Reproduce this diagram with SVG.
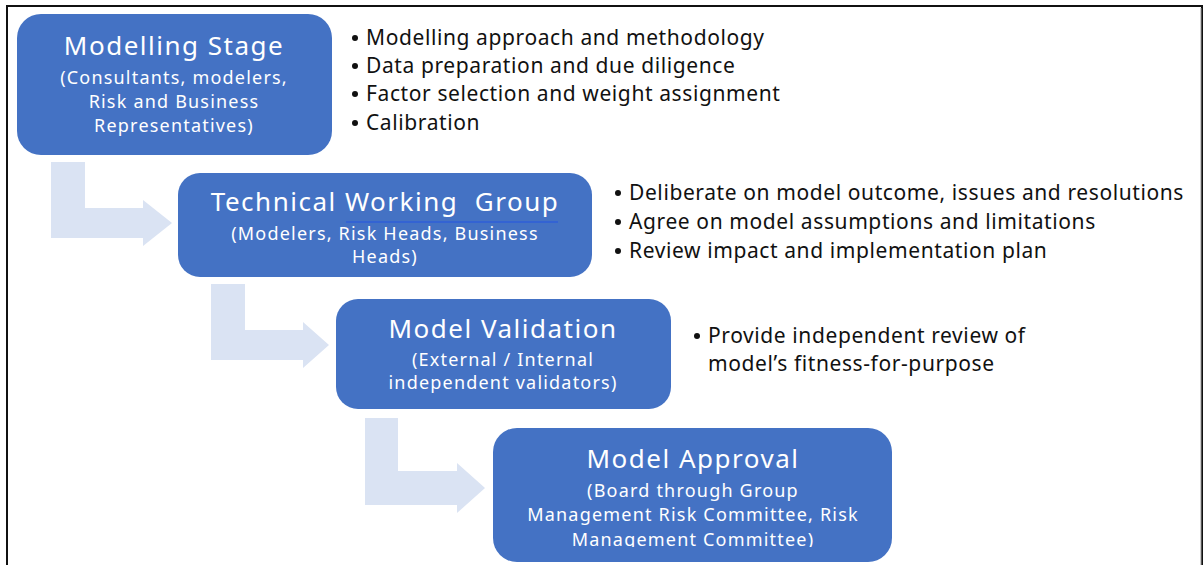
<svg xmlns="http://www.w3.org/2000/svg" width="1204" height="565" viewBox="0 0 1204 565">
<defs>
<style>
.box{fill:#4472C4;}
.arrow{fill:#DAE3F3;}
.t{font-family:"Noto Sans","Open Sans",sans-serif;fill:#FFFFFF;text-anchor:middle;}
.title{font-size:26px;letter-spacing:1.5px;}
.sub{font-size:18px;letter-spacing:1.2px;}
.b{font-family:"Noto Sans","Open Sans",sans-serif;fill:#111111;font-size:21px;letter-spacing:0.6px;}
.dot{fill:#111111;}
</style>
<clipPath id="clip4"><rect x="493" y="428" width="400" height="119"/></clipPath>
</defs>
<rect x="0" y="0" width="1204" height="565" fill="#FFFFFF"/>
<rect x="7" y="6" width="1195" height="620" fill="none" stroke="#111111" stroke-width="2"/>
<line x1="1201" y1="8" x2="1201" y2="565" stroke="#999999" stroke-width="1"/>

<g id="connectors">
<path class="arrow" d="M51,162 H85 V208 H143 V200 L172,223 L143,246 V238 H51 Z"/>
<path class="arrow" d="M211,284 H245 V330 H303 V322 L329,345 L303,368 V360 H211 Z"/>
<path class="arrow" d="M365,418 H398 V471 H457 V463 L485,488 L457,513 V505 H365 Z"/>
</g>

<g id="node-modelling">
<rect class="box" x="17" y="14" width="315" height="141" rx="24"/>
<text class="t title" x="174" y="55">Modelling Stage</text>
<text class="t sub" x="174" y="84">(Consultants, modelers,</text>
<text class="t sub" x="174" y="108">Risk and Business</text>
<text class="t sub" x="174" y="132">Representatives)</text>
</g>

<g id="node-twg">
<rect class="box" x="178" y="173" width="414" height="104" rx="22"/>
<text class="t title" x="385" y="211" xml:space="preserve">Technical Working  Group</text>
<line x1="346" y1="222" x2="558" y2="222" stroke="#2E5FD8" stroke-width="1.5"/>
<text class="t sub" x="385" y="240">(Modelers, Risk Heads, Business</text>
<text class="t sub" x="385" y="263">Heads)</text>
</g>

<g id="node-validation">
<rect class="box" x="336" y="299" width="335" height="110" rx="22"/>
<text class="t title" x="503" y="338">Model Validation</text>
<text class="t sub" x="503" y="366">(External / Internal</text>
<text class="t sub" x="503" y="389">independent validators)</text>
</g>

<g id="node-approval">
<rect class="box" x="493" y="428" width="399" height="134" rx="24"/>
<text class="t title" x="693" y="468">Model Approval</text>
<text class="t sub" x="693" y="497">(Board through Group</text>
<text class="t sub" x="693" y="521">Management Risk Committee, Risk</text>
<g clip-path="url(#clip4)">
<text class="t sub" x="693" y="546">Management Committee)</text>
</g>
</g>

<g id="list-modelling">
<circle class="dot" cx="355" cy="38" r="3"/>
<text class="b" x="366" y="45">Modelling approach and methodology</text>
<circle class="dot" cx="355" cy="66" r="3"/>
<text class="b" x="366" y="73">Data preparation and due diligence</text>
<circle class="dot" cx="355" cy="94" r="3"/>
<text class="b" x="366" y="101">Factor selection and weight assignment</text>
<circle class="dot" cx="355" cy="123" r="3"/>
<text class="b" x="366" y="130">Calibration</text>
</g>

<g id="list-twg">
<circle class="dot" cx="618" cy="193" r="3"/>
<text class="b" x="629" y="200">Deliberate on model outcome, issues and resolutions</text>
<circle class="dot" cx="618" cy="222" r="3"/>
<text class="b" x="629" y="229">Agree on model assumptions and limitations</text>
<circle class="dot" cx="618" cy="251" r="3"/>
<text class="b" x="629" y="258">Review impact and implementation plan</text>
</g>

<g id="list-validation">
<circle class="dot" cx="697" cy="336" r="3"/>
<text class="b" x="708" y="343">Provide independent review of</text>
<text class="b" x="708" y="371">model’s fitness-for-purpose</text>
</g>
</svg>
